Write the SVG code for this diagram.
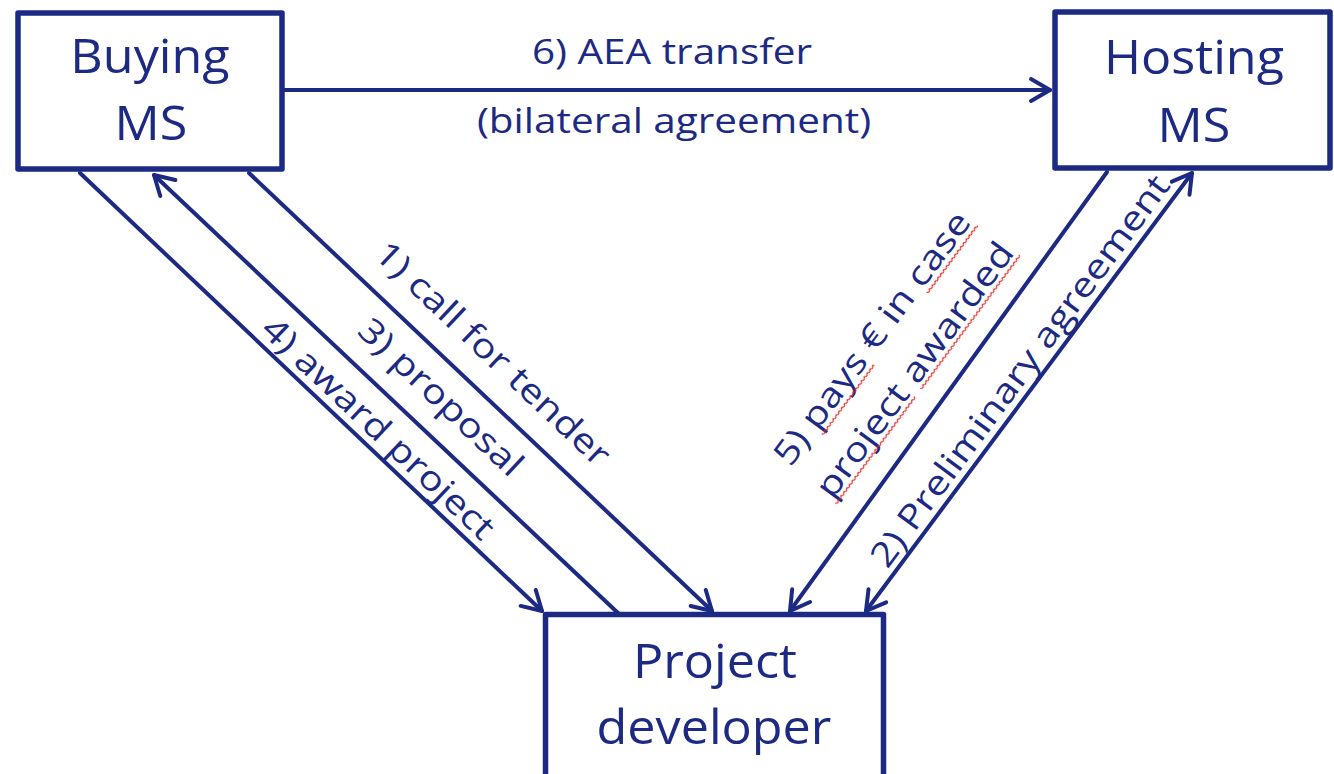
<svg xmlns="http://www.w3.org/2000/svg" width="1334" height="774" viewBox="0 0 1334 774">
  <style>
    .box { fill: #ffffff; stroke: #1c2a84; stroke-width: 5.5; stroke-linejoin: round; }
    .conn { fill: none; stroke: #1c2a84; stroke-width: 4; stroke-linecap: round; }
    .node-text { font-family: "Open Sans", "Noto Sans", sans-serif; font-size: 47px; fill: #1c2a84; text-anchor: middle; }
    .edge-text { font-family: "Open Sans", "Noto Sans", sans-serif; font-size: 34px; fill: #1c2a84; text-anchor: middle; }
    .squig { fill: url(#squig); }
  </style>
  <defs>
    <marker id="arrow" markerUnits="userSpaceOnUse" markerWidth="40" markerHeight="40" refX="0" refY="0" viewBox="-30 -20 40 40" orient="auto-start-reverse" overflow="visible">
      <path d="M -19 -11 L 0 0 L -19 11" fill="none" stroke="#1c2a84" stroke-width="4" stroke-linecap="round" stroke-linejoin="round"/>
    </marker>
    <pattern id="squig" patternUnits="userSpaceOnUse" width="4" height="4">
      <path d="M 0 3 L 2 1 L 4 3" fill="none" stroke="#e0201c" stroke-width="1"/>
    </pattern>
  </defs>

  <g id="connectors">
    <path id="e-award" class="conn" d="M 80 173 L 542 611" marker-end="url(#arrow)"/>
    <path id="e-proposal" class="conn" d="M 618 613 L 154 175" marker-end="url(#arrow)"/>
    <path id="e-call" class="conn" d="M 249 173 L 712 611" marker-end="url(#arrow)"/>
    <path id="e-pays" class="conn" d="M 1107 172 L 790 611" marker-end="url(#arrow)"/>
    <path id="e-prelim" class="conn" d="M 866 611 L 1192 173" marker-start="url(#arrow)" marker-end="url(#arrow)"/>
    <path id="e-aea" class="conn" d="M 284 90 L 1050 90" marker-end="url(#arrow)"/>

    <g id="edge-labels">
      <text class="edge-text" transform="translate(672,64) scale(1.19,1)">6) AEA transfer</text>
      <text class="edge-text" transform="translate(674,133) scale(1.19,1)">(bilateral agreement)</text>
      <text class="edge-text" transform="translate(484.8,362.3) rotate(43.4) scale(1.19,1)">1) call for tender</text>
      <text class="edge-text" transform="translate(432.8,405.7) rotate(43.4) scale(1.19,1)">3) proposal</text>
      <text class="edge-text" transform="translate(370.4,436.7) rotate(43.4) scale(1.19,1)">4) award project</text>
      <text class="edge-text" transform="translate(1029.2,377.8) rotate(-53.5) scale(1.19,1)">2) Preliminary agreement</text>
      <g transform="translate(881.4,345.2) rotate(-53.5) scale(1.19,1)">
        <text class="edge-text" x="0" y="0">5) pays € in case</text>
        <text class="edge-text" x="0" y="53">project awarded</text>
        <rect class="squig" x="-90" y="4" width="73" height="4"/>
        <rect class="squig" x="58" y="4" width="71" height="4"/>
        <rect class="squig" x="-130" y="56" width="112" height="4"/>
        <rect class="squig" x="-10" y="56" width="140" height="4"/>
      </g>
    </g>
  </g>

  <g id="node-buying">
    <rect class="box" x="18" y="13" width="264" height="156"/>
    <text class="node-text" transform="translate(150,73) scale(1.07,1)">Buying</text>
    <text class="node-text" transform="translate(151,140) scale(1.07,1)">MS</text>
  </g>

  <g id="node-hosting">
    <rect class="box" x="1055" y="12" width="275" height="156"/>
    <text class="node-text" transform="translate(1194,74) scale(1.07,1)">Hosting</text>
    <text class="node-text" transform="translate(1194,142) scale(1.07,1)">MS</text>
  </g>

  <g id="node-developer">
    <rect class="box" x="545.5" y="614.5" width="338" height="200"/>
    <text class="node-text" transform="translate(715,678) scale(1.07,1)">Project</text>
    <text class="node-text" transform="translate(714,744) scale(1.07,1)">developer</text>
  </g>
</svg>
